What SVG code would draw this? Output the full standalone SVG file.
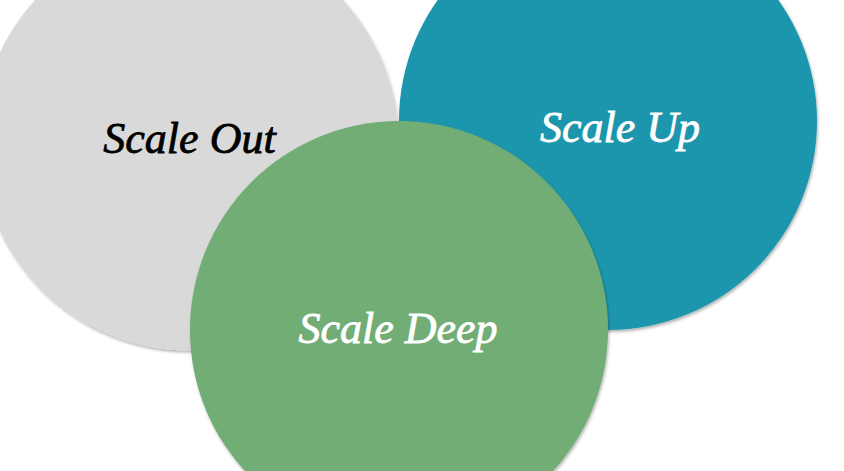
<svg xmlns="http://www.w3.org/2000/svg" width="844" height="471" viewBox="0 0 844 471">
  <defs>
    <filter id="sh" x="-10%" y="-10%" width="120%" height="120%">
      <feDropShadow dx="1" dy="2" stdDeviation="1.5" flood-color="#000" flood-opacity="0.3"/>
    </filter>
    <style>
      .c { filter: url(#sh); }
      .t { font-family: "Liberation Serif", "Times New Roman", serif; font-style: italic; font-size: 44px; text-anchor: middle; stroke-width: 0.8px; }
      .dark { fill: #000000; stroke: #000000; }
      .light { fill: #ffffff; stroke: #ffffff; }
    </style>
  </defs>
  <rect width="844" height="471" fill="#ffffff"/>
  <g id="scale-out">
    <circle class="c" cx="189" cy="141.5" r="209" fill="#D9D9D9"/>
    <text class="t dark" x="189.5" y="153">Scale Out</text>
  </g>
  <g id="scale-up">
    <circle class="c" cx="608" cy="121" r="209" fill="#1B96AC"/>
    <text class="t light" x="620" y="142">Scale Up</text>
  </g>
  <g id="scale-deep">
    <circle class="c" cx="399" cy="330" r="209" fill="#71AD74"/>
    <text class="t light" x="398" y="343">Scale Deep</text>
  </g>
  <g id="connectors"/>
</svg>
